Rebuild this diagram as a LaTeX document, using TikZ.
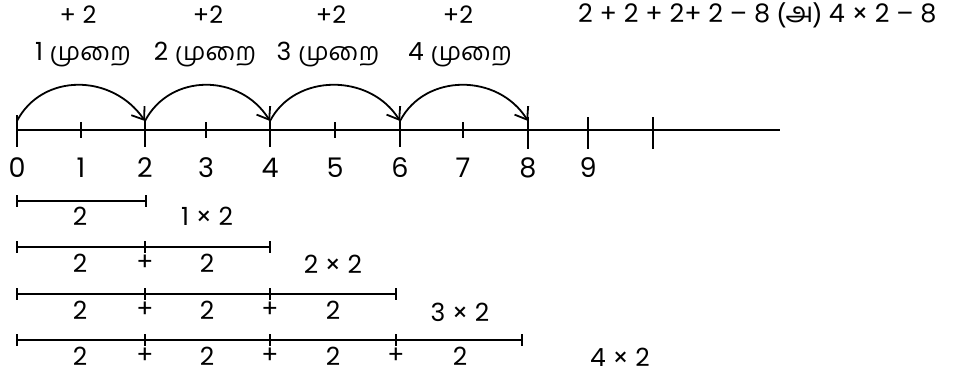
\documentclass[tikz,border=0pt]{standalone}
\usepackage{fontspec}
\setmainfont{Poppins}
\newfontfamily\tamil[Script=Tamil]{Hind Madurai}
\usetikzlibrary{arrows.meta}
\tikzset{
  axis/.style={line width=2.2pt},
  tk/.style={line width=2.2pt},
  hop/.style={line width=1.8pt,-{Straight Barb[length=11pt,width=16pt,line width=1.8pt]}},
  bar/.style={line width=2.2pt},
  num/.style={font=\fontsize{27}{30}\selectfont,inner sep=0pt},
  lab/.style={font=\fontsize{25}{28}\selectfont,inner sep=0pt},
  tlab/.style={font=\fontsize{24}{27}\selectfont,inner sep=0pt},
  slab/.style={font=\fontsize{25.5}{28}\selectfont,inner sep=0pt},
}
\begin{document}
\begin{tikzpicture}[x=1pt,y=-1pt]
\useasboundingbox (0,0) rectangle (955,376);
% tick positions
\foreach \n/\x in {0/17,1/81,2/145,3/206,4/270,5/335,6/400,7/463,8/528,9/588,10/653}{
  \coordinate (p\n) at (\x,130);
}
\coordinate (a0) at (17,121);
\coordinate (a2) at (145,121);
\coordinate (a4) at (270,121);
\coordinate (a6) at (400,121);
\coordinate (a8) at (528,121);
\coordinate (lend) at (780,130);
% axis
\draw[axis] (p0) -- (lend);
% ticks
\draw[tk] (17,115) -- (17,147);
\foreach \x in {145,270,400}{\draw[tk] (\x,121) -- (\x,147);}
\foreach \x in {81,206,335,463}{\draw[tk] (\x,122) -- (\x,138);}
\foreach \x in {528,588,653}{\draw[tk] (\x,117) -- (\x,149);}
% labels under axis
\foreach \n/\x in {0/17,1/81,2/145,3/206,4/270,5/335,6/400,7/463,8/528,9/588}{
  \node[num] (n\n) at (\x,168) {\n};
}
% hops
\draw[hop] (a0) .. controls (42,73) and (112,73) .. (a2);
\draw[hop] (a2) .. controls (170,73) and (240,73) .. (a4);
\draw[hop] (a4) .. controls (295,73) and (370,73) .. (a6);
\draw[hop] (a6) .. controls (425,73) and (498,73) .. (a8);
% top labels
\node[tlab] (s1) at (78,15) {+ 2};
\node[tlab] (s2) at (208,15) {+2};
\node[tlab] (s3) at (331,15) {+2};
\node[tlab] (s4) at (458,15) {+2};
\node[slab,anchor=west] (sum) at (578,15) {2 + 2 + 2+ 2 – 8 {\tamil\fontsize{28}{30}\selectfont(அ)} 4 × 2 – 8};
\node[lab] (m1) at (83,55) {1 {\tamil முறை}};
\node[lab] (m2) at (205,55) {2 {\tamil முறை}};
\node[lab] (m3) at (328,55) {3 {\tamil முறை}};
\node[lab] (m4) at (460,55) {4 {\tamil முறை}};
% row 1
\coordinate (r1a) at (17,201); \coordinate (r1b) at (146,201);
\draw[bar] (r1a) -- (r1b);
\foreach \c in {r1a,r1b}{\draw[bar] ([yshift=6pt]\c) -- ([yshift=-6pt]\c);}
\node[lab] (r1l1) at (80,216) {2};
\node[lab] (r1t) at (207,216) {1 × 2};
% row 2
\coordinate (r2a) at (17,247); \coordinate (r2b) at (145,247); \coordinate (r2c) at (270,247);
\draw[bar] (r2a) -- (r2c);
\foreach \c in {r2a,r2b,r2c}{\draw[bar] ([yshift=6pt]\c) -- ([yshift=-6pt]\c);}
\node[lab] at (80,263) {2};
\node[lab] at (145,263) {+};
\node[lab] at (207,263) {2};
\node[lab] (r2t) at (333,264) {2 × 2};
% row 3
\coordinate (r3a) at (17,294); \coordinate (r3b) at (145,294); \coordinate (r3c) at (270,294); \coordinate (r3d) at (396,294);
\draw[bar] (r3a) -- (r3d);
\foreach \c in {r3a,r3b,r3c,r3d}{\draw[bar] ([yshift=6pt]\c) -- ([yshift=-6pt]\c);}
\node[lab] at (80,310) {2};
\node[lab] at (145,310) {+};
\node[lab] at (207,310) {2};
\node[lab] at (270,310) {+};
\node[lab] at (333,310) {2};
\node[lab] (r3t) at (460,312) {3 × 2};
% row 4
\coordinate (r4a) at (17,340); \coordinate (r4b) at (145,340); \coordinate (r4c) at (270,340); \coordinate (r4d) at (396,340); \coordinate (r4e) at (522,340);
\draw[bar] (r4a) -- (r4e);
\foreach \c in {r4a,r4b,r4c,r4d,r4e}{\draw[bar] ([yshift=6pt]\c) -- ([yshift=-6pt]\c);}
\node[lab] at (80,356) {2};
\node[lab] at (145,356) {+};
\node[lab] at (207,356) {2};
\node[lab] at (270,356) {+};
\node[lab] at (333,356) {2};
\node[lab] at (396,356) {+};
\node[lab] at (460,356) {2};
\node[lab] (r4t) at (620,357) {4 × 2};
\end{tikzpicture}
\end{document}
